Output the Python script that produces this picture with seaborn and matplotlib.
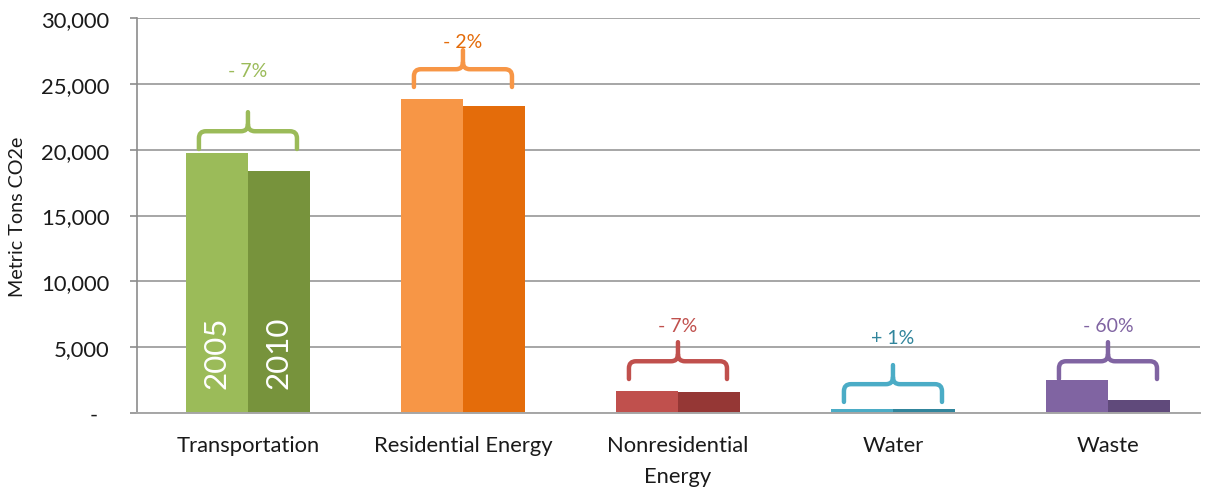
import numpy as np
import pandas as pd
import matplotlib
matplotlib.use("Agg")
import matplotlib.pyplot as plt
import matplotlib.transforms as mtransforms
from matplotlib.path import Path
from matplotlib.patches import PathPatch
import seaborn as sns

# ---- data ----
categories = ["Transportation", "Residential Energy", "Nonresidential\nEnergy", "Water", "Waste"]
years = ["2005", "2010"]
values_2005 = [19750, 23850, 1700, 300, 2530]
values_2010 = [18400, 23300, 1560, 305, 1010]
change_labels = ["- 7%", "- 2%", "- 7%", "+ 1%", "- 60%"]
y_ticks = [0, 5000, 10000, 15000, 20000, 25000, 30000]

# ---- styling / annotation layout ----
colors_2005 = ["#9BBB59", "#F79646", "#C0504D", "#4BACC6", "#8064A2"]
colors_2010 = ["#77933C", "#E46C0A", "#953735", "#31859C", "#604A7B"]
label_colors = ["#9BBB59", "#E46C0A", "#C0504D", "#31859C", "#8064A2"]
bracket_base = [20050, 24760, 2580, 840, 2580]
label_level = [25975, 28250, 6680, 5770, 6680]

sns.set_style("white")
plt.rcParams["font.family"] = ["Lato", "DejaVu Sans"]
text_color = "#1A1A1A"

df = pd.DataFrame({
    "category": categories * 2,
    "year": [years[0]] * len(categories) + [years[1]] * len(categories),
    "value": values_2005 + values_2010,
})

W, H = 1207, 489
fig = plt.figure(figsize=(W / 100, H / 100), dpi=100)
ax = fig.add_axes([137 / W, 1 - 414 / H, (1200 - 137) / W, 395 / H])

sns.barplot(data=df, x="category", y="value", hue="year", order=categories,
            hue_order=years, width=0.577, gap=0, saturation=1, legend=False,
            linewidth=0, ax=ax, errorbar=None)

for bar, c in zip(ax.containers[0], colors_2005):
    bar.set_facecolor(c)
for bar, c in zip(ax.containers[1], colors_2010):
    bar.set_facecolor(c)

ax.set_ylim(0, 30000)
ax.set_xlim(-0.516, 4.428)
ax.set_yticks(y_ticks)
ax.set_yticklabels([f"{v:,}" if v else "-  " for v in y_ticks])
ax.yaxis.grid(True, color="#A6A6A6", linewidth=1.4)
ax.xaxis.grid(False)
ax.set_axisbelow(True)

for s in ["top", "right"]:
    ax.spines[s].set_visible(False)
ax.spines["left"].set_color("#8C8C8C")
ax.spines["left"].set_linewidth(1.2)
ax.spines["bottom"].set_color("#A6A6A6")
ax.spines["bottom"].set_linewidth(1.4)

ax.tick_params(axis="y", which="major", left=True, length=5, width=1.2,
               color="#8C8C8C", pad=15, labelsize=15.8, labelcolor=text_color)
ax.tick_params(axis="x", which="major", bottom=False, length=0, pad=16,
               labelsize=15.8, labelcolor=text_color)
for t in ax.get_xticklabels():
    t.set_linespacing(1.7)

ax.set_xlabel("")
ax.set_ylabel("Metric Tons CO2e", fontsize=14.2, color=text_color)
ax.yaxis.set_label_coords(-0.104, 0.5)

# ---- year labels inside first group ----
trans = mtransforms.blended_transform_factory(ax.transData, ax.transAxes)
for cont, yr in zip(ax.containers, years):
    b = cont[0]
    ax.text(b.get_x() + b.get_width() / 2, 0.155, yr, transform=trans,
            rotation=90, ha="center", va="center", color="white", fontsize=22.5)

# ---- curly brackets ----
xl = ax.get_xlim()
px_x = 1063 / (xl[1] - xl[0])   # px per x unit
px_y = 395 / 30000               # px per y unit
rx = 7 / px_x
ry = 7 / px_y
half = 0.228
rise1 = 1350
rise2 = 1450
for i, (base, c) in enumerate(zip(bracket_base, colors_2005)):
    xc = i
    x0, x1 = xc - half, xc + half
    yh = base + rise1
    yt = yh + rise2
    verts = [
        (x0, base), (x0, yh - ry), (x0, yh), (x0 + rx, yh), (xc - rx, yh),
        (xc, yh), (xc, yh + ry), (xc, yt),
        (xc, yh + ry), (xc, yh), (xc + rx, yh), (x1 - rx, yh),
        (x1, yh), (x1, yh - ry), (x1, base),
    ]
    codes = [
        Path.MOVETO, Path.LINETO, Path.CURVE3, Path.CURVE3, Path.LINETO,
        Path.CURVE3, Path.CURVE3, Path.LINETO,
        Path.MOVETO, Path.CURVE3, Path.CURVE3, Path.LINETO,
        Path.CURVE3, Path.CURVE3, Path.LINETO,
    ]
    patch = PathPatch(Path(verts, codes), fill=False, edgecolor=c, linewidth=3.2,
                      capstyle="round", joinstyle="round", zorder=4)
    ax.add_patch(patch)
    ax.text(xc, label_level[i], change_labels[i], ha="center", va="center",
            color=label_colors[i], fontsize=14, zorder=5)

fig.savefig("out.png", dpi=100)
